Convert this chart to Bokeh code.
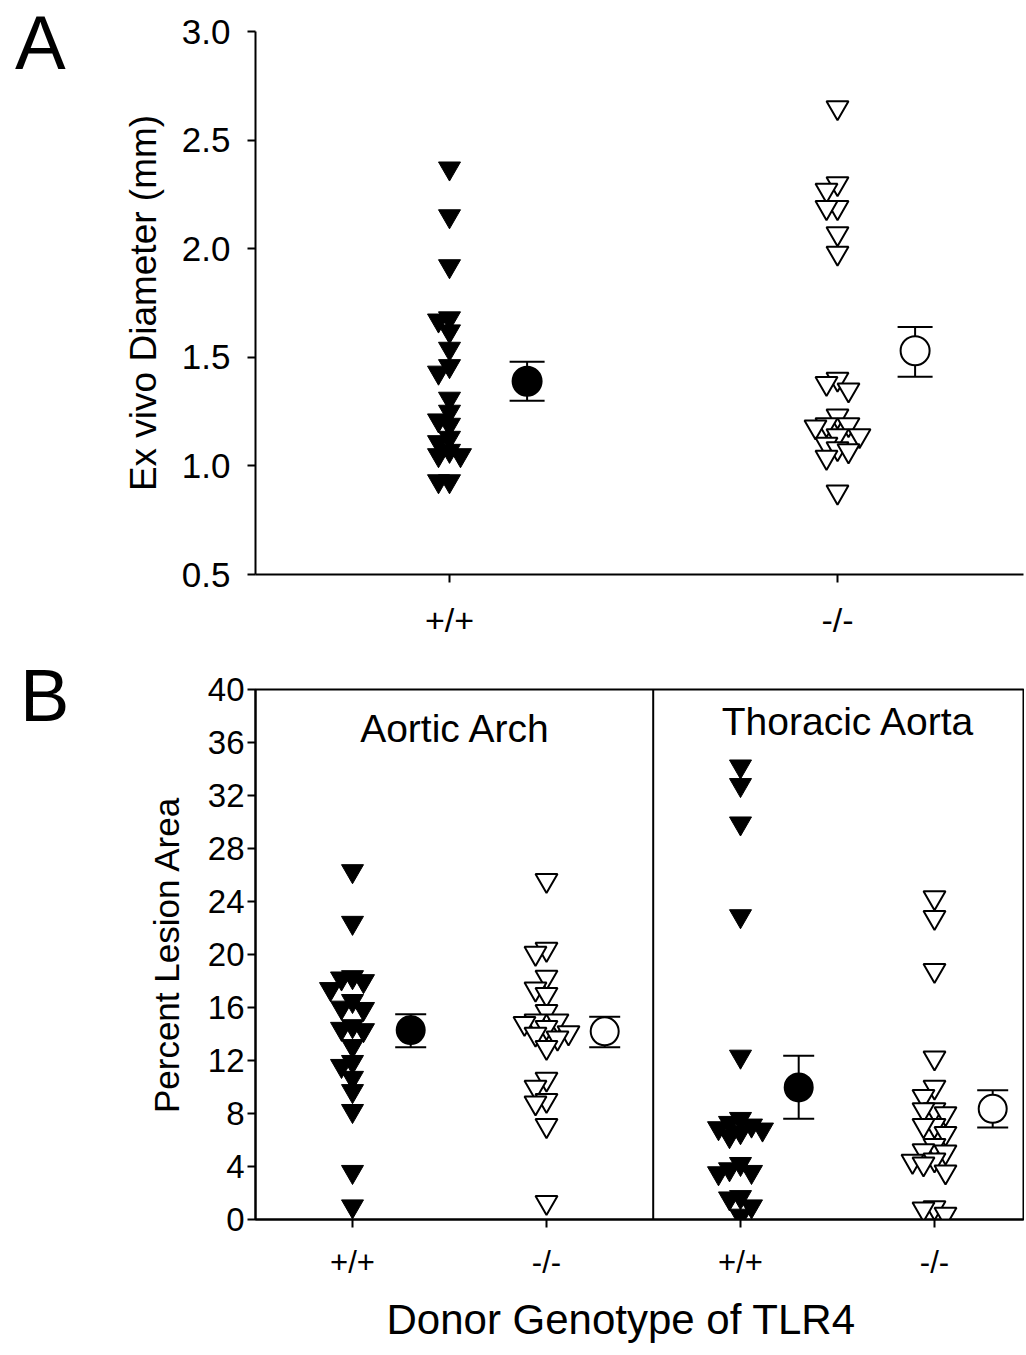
from bokeh.plotting import figure
from bokeh.layouts import column, row
from bokeh.models import (FixedTicker, Range1d, Whisker, TeeHead, Span, Title, Div,
                          ColumnDataSource, NumeralTickFormatter)
from bokeh.core.properties import value
from bokeh.embed import file_html
from bokeh.resources import INLINE

FONT = "Liberation Sans"

# ---------------- data ----------------
genotypes = ["+/+", "-/-"]
panel_letters = ["A", "B"]
x_title = "Donor Genotype of TLR4"

# Panel A: ex vivo diameter (mm)
a_wt = [2.37, 2.15, 1.92, 1.68, 1.67, 1.62, 1.54, 1.46, 1.43, 1.31, 1.25, 1.21,
        1.19, 1.13, 1.11, 1.07, 1.05, 1.05, 0.93, 0.93]
a_ko = [2.65, 2.30, 2.27, 2.19, 2.19, 2.07, 1.98, 1.40, 1.38, 1.35, 1.23, 1.19,
        1.18, 1.19, 1.14, 1.14, 1.10, 1.08, 1.07, 1.04, 0.88]
a_mean = [1.39, 1.53]
a_lo = [1.30, 1.41]
a_hi = [1.48, 1.64]

# Panel B: percent lesion area
regions = ["Aortic Arch", "Thoracic Aorta"]
b_arch_wt = [26.3, 22.4, 18.3, 18.2, 18.0, 17.4, 16.5, 16.0, 15.9, 14.6, 14.4, 14.3,
             13.1, 11.9, 11.6, 10.7, 9.7, 8.2, 3.6, 1.0]
b_arch_ko = [25.6, 20.4, 20.1, 18.3, 17.4, 17.0, 15.7, 15.0, 15.0, 14.8, 14.5, 14.1,
             14.0, 13.7, 13.0, 10.6, 10.0, 9.0, 8.8, 7.1, 1.3]
b_thor_wt = [34.2, 32.8, 29.9, 22.9, 12.3, 7.6, 7.3, 7.1, 6.9, 6.8, 6.6, 6.3, 4.2,
             3.8, 3.6, 3.5, 1.7, 1.6, 1.0, 0.3]
b_thor_ko = [24.3, 22.8, 18.8, 12.2, 10.0, 9.3, 8.3, 8.3, 8.0, 7.1, 7.1, 6.5, 5.6,
             5.2, 5.1, 4.5, 4.4, 4.2, 3.6, 0.9, 0.8, 0.4]
b_mean = [14.3, 14.2, 9.97, 8.35]
b_lo = [13.0, 13.0, 7.6, 6.95]
b_hi = [15.5, 15.3, 12.35, 9.75]

a_yticks = [0.5, 1.0, 1.5, 2.0, 2.5, 3.0]
b_yticks = [0, 4, 8, 12, 16, 20, 24, 28, 32, 36, 40]

# ---------------- layout constants ----------------
LETTER_W = 115
W = 1024 - LETTER_W
LEFT = 255 - LETTER_W
RIGHT = 1
PW = W - LEFT - RIGHT
A_H, A_TOP, A_BOT = 650, 31, 76
B_H, B_TOP, B_BOT = 703, 39, 133
A_XPPU = 388.0
B_XPPU = 194.0
A_YPPU = (A_H - A_TOP - A_BOT) / 2.5
B_YPPU = (B_H - B_TOP - B_BOT) / 40.0
TRI = 22
MEAN_OFF_A = 0.2
MEAN_OFF_B = 0.3


def swarm(vals, center, xppu, yppu, step=11.0, ythr=13.0):
    """Deterministic beeswarm offsets (pixel-based) for overlapping values."""
    order = sorted(range(len(vals)), key=lambda i: -vals[i])
    placed = []
    xs = [0.0] * len(vals)
    cands = [0, -1, 1, -2, 2, -3, 3, -4, 4]
    for i in order:
        ypx = vals[i] * yppu
        for k in cands:
            xpx = k * step
            ok = True
            for (px, py) in placed:
                if abs(px - xpx) < step * 0.9 and abs(py - ypx) < ythr:
                    ok = False
                    break
            if ok:
                break
        placed.append((xpx, ypx))
        xs[i] = center + xpx / xppu
    return xs


def style(p):
    p.xgrid.visible = False
    p.ygrid.visible = False
    p.background_fill_color = "white"
    for ax in (p.xaxis, p.yaxis):
        ax.axis_line_width = 2
        ax.axis_line_color = "black"
        ax.major_tick_line_width = 2
        ax.major_tick_line_color = "black"
        ax.major_tick_in = 0
        ax.major_tick_out = 8
        ax.minor_tick_line_color = None
        ax.major_label_text_font = FONT
        ax.major_label_text_color = "black"
        ax.axis_label_text_font = FONT
        ax.axis_label_text_font_style = "normal"
        ax.axis_label_text_color = "black"


def letter_div(h, letter, pad_left, pad_top, size):
    return Div(text=letter, width=LETTER_W, height=h, margin=0,
               styles={"font-family": FONT, "font-size": size, "line-height": "1",
                       "padding-left": f"{pad_left}px", "padding-top": f"{pad_top}px",
                       "color": "black", "box-sizing": "border-box"})


# ---------------- Panel A ----------------
pA = figure(width=W, height=A_H, x_range=Range1d(0, PW / A_XPPU), y_range=Range1d(0.5, 3.0),
            output_backend="svg", toolbar_location=None,
            min_border_left=LEFT, min_border_right=RIGHT,
            min_border_top=A_TOP, min_border_bottom=A_BOT)
style(pA)
pA.outline_line_color = None
pA.yaxis.ticker = FixedTicker(ticks=a_yticks)
pA.yaxis.formatter = NumeralTickFormatter(format="0.0")
pA.yaxis.major_label_text_font_size = "35px"
pA.yaxis.major_label_standoff = 17
pA.yaxis.axis_label = "Ex vivo Diameter (mm)"
pA.yaxis.axis_label_text_font_size = "37px"
pA.yaxis.axis_label_standoff = 15
pA.xaxis.ticker = FixedTicker(ticks=[0.5, 1.5])
pA.xaxis.major_label_overrides = {0.5: genotypes[0], 1.5: genotypes[1]}
pA.xaxis.major_label_text_font_size = "34px"
pA.xaxis.major_label_standoff = 18

a_centers = [0.5, 1.5]
pA.scatter(swarm(a_wt, a_centers[0], A_XPPU, A_YPPU), a_wt, marker="inverted_triangle",
           size=TRI, fill_color="black", line_color="black", line_width=1)
pA.scatter(swarm(a_ko, a_centers[1], A_XPPU, A_YPPU), a_ko, marker="inverted_triangle",
           size=TRI, fill_color="white", line_color="black", line_width=2)

a_mx = [c + MEAN_OFF_A for c in a_centers]
srcA = ColumnDataSource(dict(x=a_mx, lo=a_lo, hi=a_hi))
wA = Whisker(base="x", lower="lo", upper="hi", source=srcA, line_width=2, line_color="black",
             upper_head=TeeHead(size=35, line_width=2, line_color="black"),
             lower_head=TeeHead(size=35, line_width=2, line_color="black"), level="underlay")
pA.add_layout(wA)
pA.scatter([a_mx[0]], [a_mean[0]], marker="circle", size=29, fill_color="black",
           line_color="black", line_width=2)
pA.scatter([a_mx[1]], [a_mean[1]], marker="circle", size=29, fill_color="white",
           line_color="black", line_width=2)

# ---------------- Panel B ----------------
pB = figure(width=W, height=B_H, x_range=Range1d(0, PW / B_XPPU), y_range=Range1d(0, 40),
            output_backend="svg", toolbar_location=None,
            min_border_left=LEFT, min_border_right=RIGHT,
            min_border_top=B_TOP, min_border_bottom=B_BOT)
style(pB)
pB.outline_line_color = "black"
pB.outline_line_width = 2
pB.outline_line_alpha = 1.0
pB.yaxis.ticker = FixedTicker(ticks=b_yticks)
pB.yaxis.major_label_text_font_size = "33px"
pB.yaxis.major_label_standoff = 3
pB.yaxis.axis_label = "Percent Lesion Area"
pB.yaxis.axis_label_text_font_size = "35px"
pB.yaxis.axis_label_standoff = 19
b_centers = [0.5, 1.5, 2.5, 3.5]
pB.xaxis.ticker = FixedTicker(ticks=b_centers)
pB.xaxis.major_label_overrides = {0.5: genotypes[0], 1.5: genotypes[1],
                                  2.5: genotypes[0], 3.5: genotypes[1]}
pB.xaxis.major_label_text_font_size = "31px"
pB.xaxis.major_label_standoff = 17

pB.add_layout(Title(text=x_title, align="left", offset=131, standoff=22,
                    text_font=FONT, text_font_size="42px", text_font_style="normal",
                    text_color="black"), "below")

pB.add_layout(Span(location=2.05, dimension="height", line_color="black", line_width=2))

groups = [b_arch_wt, b_arch_ko, b_thor_wt, b_thor_ko]
for i, g in enumerate(groups):
    filled = (i % 2 == 0)
    pB.scatter(swarm(g, b_centers[i], B_XPPU, B_YPPU), g, marker="inverted_triangle",
               size=TRI, fill_color="black" if filled else "white", line_color="black",
               line_width=1 if filled else 2)

b_mx = [c + MEAN_OFF_B for c in b_centers]
srcB = ColumnDataSource(dict(x=b_mx, lo=b_lo, hi=b_hi))
wB = Whisker(base="x", lower="lo", upper="hi", source=srcB, line_width=2, line_color="black",
             upper_head=TeeHead(size=31, line_width=2, line_color="black"),
             lower_head=TeeHead(size=31, line_width=2, line_color="black"), level="underlay")
pB.add_layout(wB)
pB.scatter([b_mx[0], b_mx[2]], [b_mean[0], b_mean[2]], marker="circle", size=28,
           fill_color="black", line_color="black", line_width=2)
pB.scatter([b_mx[1], b_mx[3]], [b_mean[1], b_mean[3]], marker="circle", size=28,
           fill_color="white", line_color="black", line_width=2)

title_x = [1.031, 3.057]
title_y = [37.06, 37.59]
pB.text(x=title_x, y=title_y, text=regions, text_font=value(FONT), text_font_size="39px",
        text_align="center", text_baseline="middle", text_color="black")

# ---------------- panel letters ----------------
letA = letter_div(A_H, panel_letters[0], 15, 5, "76px")
letB = letter_div(B_H, panel_letters[1], 20, 9, "74px")

layout = column(row(letA, pA, spacing=0), row(letB, pB, spacing=0), spacing=0)
open("out.html", "w").write(file_html(layout, INLINE))
